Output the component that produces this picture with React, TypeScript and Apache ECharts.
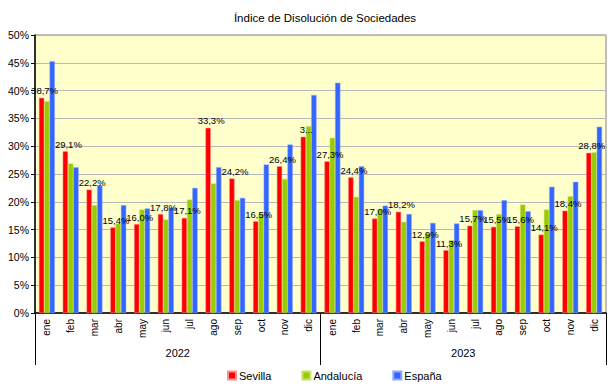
import React, { useEffect, useRef } from "react";
import * as echarts from "echarts";

const months = ["ene", "feb", "mar", "abr", "may", "jun", "jul", "ago", "sep", "oct", "nov", "dic",
  "ene", "feb", "mar", "abr", "may", "jun", "jul", "ago", "sep", "oct", "nov", "dic"];
const years = ["2022", "2023"];
const sevilla = [38.7, 29.1, 22.2, 15.4, 16.0, 17.8, 17.1, 33.3, 24.2, 16.5, 26.4, 31.7,
  27.3, 24.4, 17.0, 18.2, 12.9, 11.3, 15.7, 15.5, 15.6, 14.1, 18.4, 28.8];
const andalucia = [38.1, 26.9, 19.4, 16.1, 18.6, 16.8, 20.4, 23.3, 20.3, 17.9, 24.1, 33.6,
  31.5, 20.9, 18.7, 16.4, 14.3, 13.1, 18.5, 17.8, 19.5, 18.6, 21.0, 28.9];
const espana = [45.3, 26.2, 23.0, 19.4, 18.8, 18.9, 22.5, 26.2, 20.7, 26.7, 30.3, 39.2,
  41.4, 26.4, 19.3, 17.8, 16.2, 16.1, 18.5, 20.3, 18.3, 22.7, 23.6, 33.5];
// label shown truncated in the reference (overlapping)
const sevillaLabelOverrides: Record<number, string> = { 11: "3..." };

const FONT = "Liberation Sans";

export default function App() {
  const ref = useRef<HTMLDivElement>(null);
  useEffect(() => {
    if (!ref.current) return;
    const chart = echarts.init(ref.current, undefined, { renderer: "svg" });
    chart.setOption({
      animation: false,
      backgroundColor: "#ffffff",
      textStyle: { fontFamily: FONT },
      title: {
        text: "Índice de Disolución de Sociedades",
        left: 320,
        top: 7,
        textAlign: "center",
        textStyle: { fontSize: 11.5, fontWeight: "normal", color: "#000", fontFamily: FONT },
      },
      legend: {
        bottom: 6,
        left: 222,
        itemWidth: 8,
        itemHeight: 8,
        itemGap: 30,
        icon: "rect",
        textStyle: { fontSize: 11, color: "#000", fontFamily: FONT, padding: [0, 0, 0, -2] },
        data: ["Sevilla", "Andalucía", "España"],
      },
      grid: {
        left: 35,
        right: 6,
        top: 35,
        bottom: 79,
        show: true,
        backgroundColor: "#FFFFCC",
        borderColor: "#808080",
        borderWidth: 1,
      },
      xAxis: [
        {
          type: "category",
          data: months,
          position: "bottom",
          axisLine: { show: true, lineStyle: { color: "#000", width: 1.5 } },
          axisTick: { show: false },
          axisLabel: { rotate: 90, fontSize: 10, color: "#000", margin: 6, interval: 0 },
        },
        {
          type: "category",
          data: years,
          position: "bottom",
          axisLine: { show: false },
          axisTick: { show: true, length: 52, lineStyle: { color: "#000" } },
          axisLabel: { fontSize: 11, color: "#000", margin: 34 },
        },
      ],
      yAxis: {
        type: "value",
        min: 0,
        max: 50,
        interval: 5,
        axisLine: { show: true, lineStyle: { color: "#000", width: 1.5 } },
        axisTick: { show: true, length: 4, lineStyle: { color: "#000" } },
        axisLabel: { formatter: "{value}%", fontSize: 10.5, color: "#000", margin: 6 },
        splitLine: { lineStyle: { color: "#B8B8B8" } },
      },
      series: [
        {
          name: "Sevilla",
          type: "bar",
          data: sevilla,
          barGap: "0%",
          barCategoryGap: "33%",
          itemStyle: { color: "#FF0000", borderColor: "#FF9090", borderWidth: 0.5 },
          label: {
            show: true,
            position: "top",
            distance: 2,
            offset: [3, 0],
            fontSize: 9.5,
            color: "#000",
            fontFamily: FONT,
            formatter: (p: any) =>
              sevillaLabelOverrides[p.dataIndex] ?? p.value.toFixed(1).replace(".", ",") + "%",
          },
        },
        {
          name: "Andalucía",
          type: "bar",
          data: andalucia,
          itemStyle: { color: "#99CC00", borderColor: "#C8E070", borderWidth: 0.5 },
        },
        {
          name: "España",
          type: "bar",
          data: espana,
          itemStyle: { color: "#3366FF", borderColor: "#8FA8FF", borderWidth: 0.5 },
        },
      ],
    });
    return () => chart.dispose();
  }, []);
  return (
    <div
      ref={ref}
      style={{ position: "fixed", left: 0, top: 0, width: 612, height: 392 }}
    />
  );
}
